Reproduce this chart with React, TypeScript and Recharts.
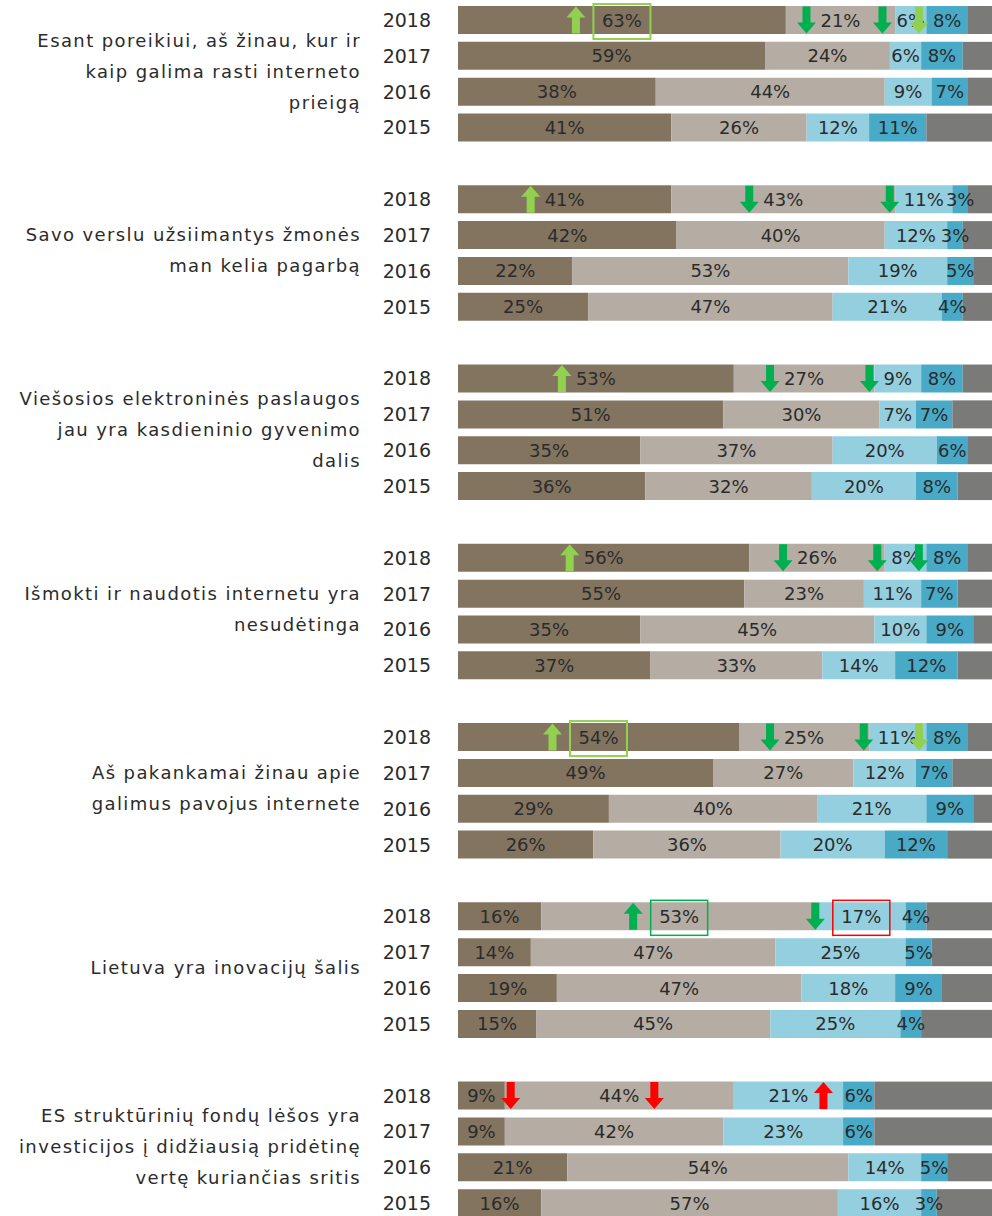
import React from 'react'
import { BarChart, Bar, XAxis, YAxis } from 'recharts'

const YEARS = ['2018', '2017', '2016', '2015']

const QUESTIONS = [
  ['Esant poreikiui, aš žinau, kur ir', 'kaip galima rasti interneto', 'prieigą'],
  ['Savo verslu užsiimantys žmonės', 'man kelia pagarbą'],
  ['Viešosios elektroninės paslaugos', 'jau yra kasdieninio gyvenimo', 'dalis'],
  ['Išmokti ir naudotis internetu yra', 'nesudėtinga'],
  ['Aš pakankamai žinau apie', 'galimus pavojus internete'],
  ['Lietuva yra inovacijų šalis'],
  ['ES struktūrinių fondų lėšos yra', 'investicijos į didžiausią pridėtinę', 'vertę kuriančias sritis'],
]

// 4 values per question, in YEARS order
const FULLY_AGREE = [63, 59, 38, 41, 41, 42, 22, 25, 53, 51, 35, 36, 56, 55, 35, 37, 54, 49, 29, 26, 16, 14, 19, 15, 9, 9, 21, 16]
const RATHER_AGREE = [21, 24, 44, 26, 43, 40, 53, 47, 27, 30, 37, 32, 26, 23, 45, 33, 25, 27, 40, 36, 53, 47, 47, 45, 44, 42, 54, 57]
const RATHER_DISAGREE = [6, 6, 9, 12, 11, 12, 19, 21, 9, 7, 20, 20, 8, 11, 10, 14, 11, 12, 21, 20, 17, 25, 18, 25, 21, 23, 14, 16]
const DISAGREE = [8, 8, 7, 11, 3, 3, 5, 4, 8, 7, 6, 8, 8, 7, 9, 12, 8, 7, 9, 12, 4, 5, 9, 4, 6, 6, 5, 3]
// grey rest, as much of it as shows before the right edge
const NO_ANSWER = [5, 6, 5, 13, 5, 6, 4, 6, 6, 8, 5, 7, 5, 7, 4, 7, 5, 8, 4, 9, 13, 12, 10, 14, 23, 23, 9, 11]

const BROWN = '#837460'
const TAUPE = '#b5ada3'
const LIGHT_BLUE = '#93cfdf'
const TEAL = '#48aac6'
const GREY = '#7a7a78'

const LIGHT_GREEN = '#92d050'
const GREEN = '#00b050'
const RED = '#ff0000'

// change markers on the 2018 row of each question
const ARROWS = [
  { g: 0, key: 's1', dir: 'up', color: LIGHT_GREEN },
  { g: 0, key: 's2', dir: 'down', color: GREEN },
  { g: 0, key: 's3', dir: 'down', color: GREEN },
  { g: 0, key: 's4', dir: 'down', color: LIGHT_GREEN },
  { g: 1, key: 's1', dir: 'up', color: LIGHT_GREEN },
  { g: 1, key: 's2', dir: 'down', color: GREEN },
  { g: 1, key: 's3', dir: 'down', color: GREEN },
  { g: 2, key: 's1', dir: 'up', color: LIGHT_GREEN },
  { g: 2, key: 's2', dir: 'down', color: GREEN },
  { g: 2, key: 's3', dir: 'down', color: GREEN },
  { g: 3, key: 's1', dir: 'up', color: LIGHT_GREEN },
  { g: 3, key: 's2', dir: 'down', color: GREEN },
  { g: 3, key: 's3', dir: 'down', color: GREEN },
  { g: 3, key: 's4', dir: 'down', color: GREEN },
  { g: 4, key: 's1', dir: 'up', color: LIGHT_GREEN },
  { g: 4, key: 's2', dir: 'down', color: GREEN },
  { g: 4, key: 's3', dir: 'down', color: GREEN },
  { g: 4, key: 's4', dir: 'down', color: LIGHT_GREEN },
  { g: 5, key: 's2', dir: 'up', color: GREEN },
  { g: 5, key: 's3', dir: 'down', color: GREEN },
  { g: 6, key: 's1', dir: 'down', color: RED },
  { g: 6, key: 's2', dir: 'down', color: RED },
  { g: 6, key: 's3', dir: 'up', color: RED },
]

const BOXES = [
  { g: 0, key: 's1', color: LIGHT_GREEN },
  { g: 4, key: 's1', color: LIGHT_GREEN },
  { g: 5, key: 's2', color: GREEN },
  { g: 5, key: 's3', color: RED },
]

const KEYS = ['s1', 's2', 's3', 's4']

const rows: any[] = []
QUESTIONS.forEach((q, g) => {
  YEARS.forEach((year, yi) => {
    const i = g * 4 + yi
    rows.push({
      slot: `${g}-${year}`, g, yi, year,
      s1: FULLY_AGREE[i], s2: RATHER_AGREE[i], s3: RATHER_DISAGREE[i], s4: DISAGREE[i], s5: NO_ANSWER[i],
    })
  })
  if (g < QUESTIONS.length - 1) rows.push({ slot: `gap-${g}`, g, yi: -1 })
})

const FONT = '"DejaVu Sans", sans-serif'
const TEXT = '#2b2b2b'

const textWidth = (s: string) => (s.length - 1) * 11.45 + 17.1

function arrowPath(cx: number, top: number, h: number, dir: string) {
  const shaft = 4, head = 9.5, headH = 11
  if (dir === 'down') {
    return `M${cx - shaft},${top} H${cx + shaft} V${top + h - headH} H${cx + head} L${cx},${top + h} L${cx - head},${top + h - headH} H${cx - shaft} Z`
  }
  return `M${cx - shaft},${top + h} H${cx + shaft} V${top + headH} H${cx + head} L${cx},${top} L${cx - head},${top + headH} H${cx - shaft} Z`
}

function RowTick(props: any) {
  const { y, payload } = props
  const row = rows.find((r) => r.slot === payload.value)
  if (!row || row.yi < 0) return null
  const lines = QUESTIONS[row.g]
  const mid = y + 17.9
  return (
    <g>
      <text x={431} y={y + 7} textAnchor="end" fontFamily={FONT} fontSize={19} fill={TEXT}>
        {row.year}
      </text>
      {row.yi === 1 &&
        lines.map((line, i) => (
          <text
            key={i}
            x={361}
            y={mid + 4 + (i - (lines.length - 1) / 2) * 31}
            textAnchor="end"
            fontFamily={FONT}
            fontSize={18}
            letterSpacing={1.4}
            fill={TEXT}
          >
            {line}
          </text>
        ))}
    </g>
  )
}

// grey end piece, plus the percent labels and change markers of the whole row on top
function RowShape(props: any) {
  const { x, y, width, height, payload, fill } = props
  if (payload == null || payload.s1 == null || !payload.s5) return null
  const ppp = width / payload.s5
  const start = x - (payload.s1 + payload.s2 + payload.s3 + payload.s4) * ppp
  let cum = 0
  const marks: any[] = []
  KEYS.forEach((k) => {
    const v = payload[k]
    const cx = start + (cum + v / 2) * ppp
    cum += v
    const label = `${v}%`
    const tw = textWidth(label)
    marks.push(
      <text key={k} x={cx} y={y + height / 2 + 6.5} textAnchor="middle" fontFamily={FONT} fontSize={18} fill={TEXT}>
        {label}
      </text>
    )
    if (payload.yi !== 0) return
    const box = BOXES.find((b) => b.g === payload.g && b.key === k)
    if (box) {
      marks.push(
        <rect key={k + 'box'} x={cx - 28.5} y={y - 2} width={57} height={35} fill="none" stroke={box.color}
          strokeWidth={box.color === LIGHT_GREEN ? 2 : 1.5} />
      )
    }
    const arrow = ARROWS.find((a) => a.g === payload.g && a.key === k)
    if (arrow) {
      let ax = cx - tw / 2 - 14
      if (box) ax = cx - 46
      if (arrow.color === RED) ax = cx + tw / 2 + 15
      marks.push(<path key={k + 'arrow'} d={arrowPath(ax, y + 0.5, 27, arrow.dir)} fill={arrow.color} />)
    }
  })
  return (
    <g>
      <rect x={x} y={y} width={width} height={height} fill={fill} />
      {marks}
    </g>
  )
}

export default function App() {
  return (
    <div style={{ position: 'absolute', left: 0, top: 0, width: 992, height: 1216, overflow: 'hidden', background: '#fff' }}>
      <BarChart
        width={994}
        height={1222}
        data={rows}
        layout="vertical"
        margin={{ top: 2, right: 0, bottom: 1, left: 0 }}
        barSize={28}
      >
        <XAxis type="number" domain={[0, 103]} allowDataOverflow hide />
        <YAxis
          type="category"
          dataKey="slot"
          width={458}
          axisLine={false}
          tickLine={false}
          interval={0}
          tick={<RowTick />}
        />
        <Bar dataKey="s1" stackId="a" fill={BROWN} isAnimationActive={false} />
        <Bar dataKey="s2" stackId="a" fill={TAUPE} isAnimationActive={false} />
        <Bar dataKey="s3" stackId="a" fill={LIGHT_BLUE} isAnimationActive={false} />
        <Bar dataKey="s4" stackId="a" fill={TEAL} isAnimationActive={false} />
        <Bar dataKey="s5" stackId="a" fill={GREY} isAnimationActive={false} shape={<RowShape />} />
      </BarChart>
    </div>
  )
}
